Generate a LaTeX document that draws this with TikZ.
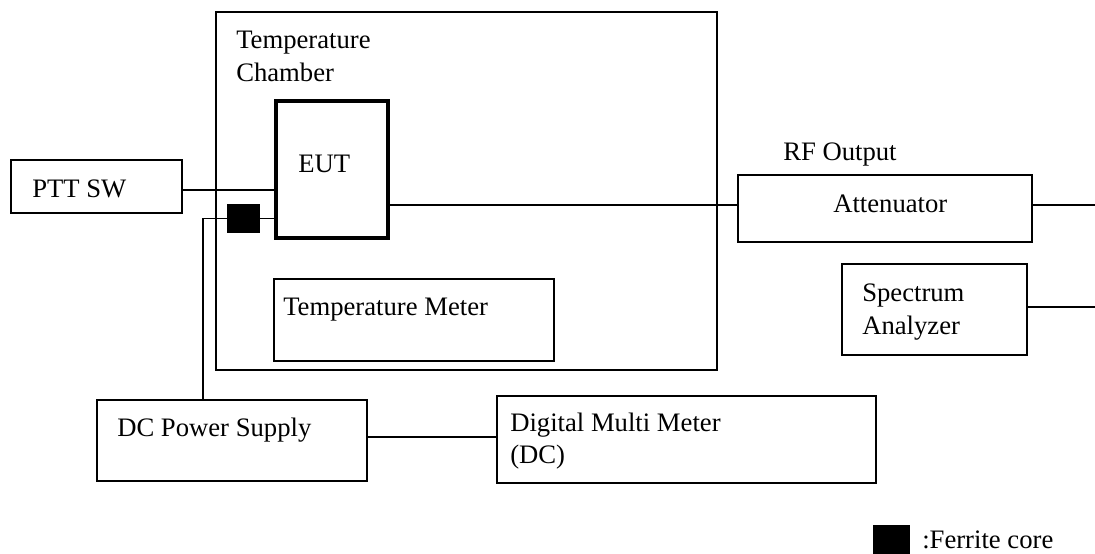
\documentclass[tikz,border=0pt]{standalone}
\usepackage{fontspec}
\setmainfont{Liberation Serif}
\usetikzlibrary{positioning}

\begin{document}
\begin{tikzpicture}[x=0.75pt, y=-0.75pt,
    box/.style={draw=black, line width=1.1pt, inner sep=0pt},
    txt/.style={anchor=base west, inner sep=0pt, font=\fontsize{20}{24}\selectfont},
    core/.style={fill=black, draw=none, inner sep=0pt}]
    \useasboundingbox (0,0) rectangle (1095,553);

    % boxes
    \node[box, minimum width=375.75pt, minimum height=268.5pt] (chamber) at (466.5,191) {};
    \node[box, minimum width=128.25pt, minimum height=39.75pt] (ptt) at (96.5,186.5) {};
    \node[box, line width=3pt, minimum width=84pt, minimum height=102.75pt] (eut) at (332,169.5) {};
    \node[box, minimum width=210pt, minimum height=61.5pt] (tmeter) at (414,320) {};
    \node[box, minimum width=220.5pt, minimum height=50.25pt] (att) at (885,208.5) {};
    \node[box, minimum width=138.75pt, minimum height=68.25pt] (spa) at (934.5,309.5) {};
    \node[box, minimum width=202.5pt, minimum height=60.75pt] (dcps) at (232,440.5) {};
    \node[box, minimum width=284.25pt, minimum height=65.25pt] (dmm) at (686.5,439.5) {};
    \node[core, minimum width=24.75pt, minimum height=21.75pt] (fer) at (243.5,218.5) {};
    \node[core, minimum width=27.75pt, minimum height=21.75pt] (legcore) at (891.5,539) {};

    % texts
    \node[txt] (chlbla) at (236,48) {Temperature};
    \node[txt] (chlblb) at (236,81) {Chamber};
    \node[txt] (eutlbl) at (298,172) {EUT};
    \node[txt] (pttlbl) at (32,197) {PTT SW};
    \node[txt] (tmlbl) at (283,315) {Temperature Meter};
    \node[txt] (rflbl) at (783,160) {RF Output};
    \node[txt] (attlbl) at (833,212) {Attenuator};
    \node[txt] (spalbla) at (862,301) {Spectrum};
    \node[txt] (spalblb) at (862,334) {Analyzer};
    \node[txt] (dcpslbl) at (117,436) {DC Power Supply};
    \node[txt] (dmmlbla) at (510,431) {Digital Multi Meter};
    \node[txt] (dmmlblb) at (510,463) {(DC)};
    \node[txt] (leglbl) at (922,548) {:Ferrite core};

    % wires
    \coordinate (bend) at (203,218.5);
    \coordinate (rfout) at (1095,205);
    \coordinate (spaout) at (1095,307);
    \draw[line width=1.1pt] (ptt.east |- 0,190) -- (eut.west |- 0,190);
    \draw[line width=1.1pt] (fer.east) -- (eut.west |- fer.east);
    \draw[line width=1.1pt] (fer.west) -- (bend) -- (bend |- dcps.north);
    \draw[line width=1.1pt] (eut.east |- rfout) -- (att.west |- rfout);
    \draw[line width=1.1pt] (att.east |- rfout) -- (rfout);
    \draw[line width=1.1pt] (spa.east |- spaout) -- (spaout);
    \draw[line width=1.1pt] (dcps.east |- 0,437) -- (dmm.west |- 0,437);
\end{tikzpicture}
\end{document}
